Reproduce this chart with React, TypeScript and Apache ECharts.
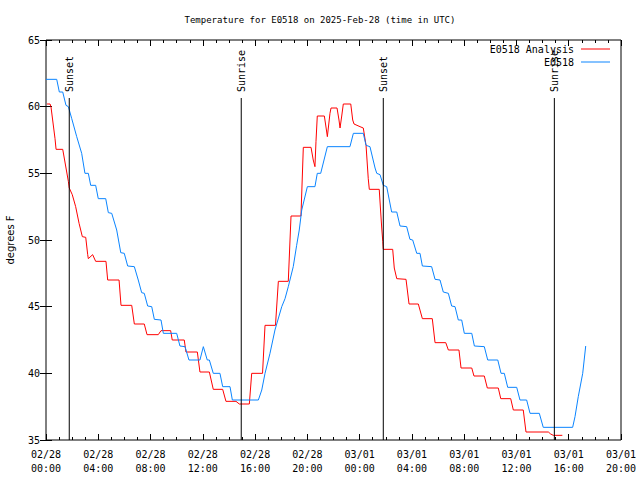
import React, { useEffect, useRef } from "react";
import * as echarts from "echarts";

// hours since 2025-02-28 00:00 UTC
const analysisHours = [0.08, 0.31, 0.38, 0.69, 0.77, 1.28, 1.71, 1.78, 2.01, 2.27, 2.53, 2.78, 3.04, 3.19, 3.24, 3.57, 3.80, 4.59, 4.72, 5.59, 5.74, 6.56, 6.76, 7.52, 7.73, 8.59, 8.80, 9.54, 9.66, 10.58, 10.71, 11.58, 11.78, 12.50, 12.80, 13.52, 13.77, 14.54, 14.79, 15.56, 15.74, 16.57, 16.76, 17.56, 17.78, 18.54, 18.75, 19.51, 19.69, 20.28, 20.45, 20.58, 20.66, 20.76, 21.30, 21.48, 21.53, 21.73, 21.81, 22.27, 22.42, 22.50, 22.63, 22.75, 23.32, 23.47, 23.57, 24.03, 24.28, 24.49, 24.66, 24.74, 25.50, 25.61, 25.69, 25.77, 25.81, 26.53, 26.65, 26.84, 27.55, 27.78, 28.49, 28.80, 29.56, 29.77, 30.59, 30.79, 31.60, 31.76, 32.58, 32.75, 33.54, 33.77, 34.61, 34.80, 35.56, 35.76, 36.52, 36.73, 38.44, 38.62, 38.82, 39.51];
const analysisTemps = [60.2, 60.2, 60.0, 57.6, 56.8, 56.8, 54.4, 53.9, 53.4, 52.5, 51.25, 50.25, 50.2, 48.9, 48.6, 48.9, 48.4, 48.4, 47.0, 47.0, 45.1, 45.1, 43.7, 43.7, 42.9, 42.9, 43.2, 43.2, 42.5, 42.5, 41.6, 41.6, 40.1, 40.1, 38.8, 38.8, 37.9, 37.9, 37.7, 37.7, 40.0, 40.0, 43.6, 43.6, 46.9, 46.9, 51.8, 51.8, 56.95, 56.95, 56.0, 55.5, 57.4, 59.3, 59.3, 58.1, 57.75, 59.5, 59.9, 59.9, 59.0, 58.4, 59.3, 60.2, 60.2, 59.0, 58.7, 58.5, 58.4, 57.1, 54.6, 53.8, 53.8, 52.1, 50.9, 49.9, 49.3, 49.3, 47.9, 47.1, 47.05, 45.2, 45.2, 44.1, 44.1, 42.3, 42.3, 41.75, 41.75, 40.4, 40.4, 39.8, 39.8, 38.9, 38.9, 38.1, 38.1, 37.25, 37.25, 35.6, 35.6, 35.45, 35.35, 35.35];

const stationHours = [0.0, 0.82, 1.02, 1.28, 1.53, 1.71, 1.97, 2.35, 2.73, 2.98, 3.24, 3.42, 3.80, 4.00, 4.57, 4.77, 5.03, 5.41, 5.72, 5.99, 6.25, 6.76, 7.06, 7.32, 7.52, 7.78, 8.09, 8.29, 8.80, 8.98, 10.00, 10.25, 10.64, 10.94, 11.78, 12.04, 12.34, 12.50, 12.80, 13.31, 13.52, 14.08, 14.26, 16.25, 16.51, 16.76, 17.14, 17.52, 18.04, 18.29, 18.54, 18.92, 19.18, 19.38, 19.57, 20.00, 20.58, 20.76, 21.02, 21.53, 23.26, 23.52, 24.28, 24.49, 24.79, 25.18, 25.31, 25.56, 25.81, 26.07, 26.45, 26.84, 27.09, 27.60, 27.85, 28.06, 28.37, 28.62, 28.80, 29.51, 29.77, 30.15, 30.40, 30.79, 31.04, 31.30, 31.55, 31.81, 32.01, 32.58, 32.78, 33.54, 33.80, 34.57, 34.82, 35.07, 35.33, 36.02, 36.27, 36.78, 37.04, 37.75, 38.05, 40.30, 40.48, 40.73, 41.07, 41.30];
const stationTemps = [62.05, 62.05, 61.1, 61.1, 60.1, 60.0, 59.1, 57.75, 56.5, 55.0, 55.0, 54.1, 54.1, 53.1, 53.1, 52.05, 52.0, 50.75, 49.05, 49.0, 48.05, 48.0, 47.0, 46.05, 46.0, 45.05, 45.0, 44.05, 44.0, 43.0, 43.0, 42.05, 42.0, 41.0, 41.0, 42.0, 41.0, 41.0, 40.0, 40.0, 39.0, 39.0, 38.0, 38.0, 38.75, 40.0, 41.5, 43.25, 45.0, 45.6, 46.5, 48.0, 49.6, 50.75, 52.25, 54.0, 54.0, 55.0, 55.0, 57.0, 57.0, 58.0, 58.0, 57.1, 57.0, 55.4, 55.0, 54.9, 54.1, 54.0, 52.1, 52.1, 51.05, 51.0, 50.05, 50.0, 49.0, 49.0, 48.05, 48.0, 47.05, 47.0, 46.1, 46.0, 45.05, 45.0, 44.0, 44.0, 43.0, 43.0, 42.05, 42.0, 41.0, 41.0, 40.0, 40.0, 38.95, 38.95, 38.0, 38.0, 37.0, 37.0, 35.95, 35.95, 36.75, 38.25, 40.0, 42.05];

const eventHours = [1.78, 14.94, 25.81, 38.9];
const eventLabels = ["Sunset", "Sunrise", "Sunset", "Sunrise"];
const eventLineTop = 60.65;

const seriesNames = ["E0518 Analysis", "E0518"];
const xTickHours = [0, 4, 8, 12, 16, 20, 24, 28, 32, 36, 40, 44];
const dayLabels = ["02/28", "03/01"];

const MONO = "'DejaVu Sans Mono', monospace";

function fmtHour(h: number): string {
  const day = dayLabels[Math.floor(h / 24)] ?? dayLabels[1];
  const hh = Math.round(h % 24);
  return `${day}\n${String(hh).padStart(2, "0")}:00`;
}

export default function App() {
  const ref = useRef<HTMLDivElement>(null);
  useEffect(() => {
    if (!ref.current) return;
    const chart = echarts.init(ref.current, undefined, { renderer: "svg" });
    const red = analysisHours.map((h, i) => [h, analysisTemps[i]]);
    const blue = stationHours.map((h, i) => [h, stationTemps[i]]);
    const axisLine = { show: false };
    const legendCommon = {
      right: 30,
      align: "right",
      icon: "rect",
      itemWidth: 29,
      itemHeight: 1,
      itemGap: 0,
      padding: 0,
      textStyle: { fontFamily: MONO, fontSize: 10, color: "#000", padding: [0, 2, 0, 0] },
    };
    chart.setOption({
      animation: false,
      backgroundColor: "#fff",
      title: {
        text: "Temperature for E0518 on 2025-Feb-28 (time in UTC)",
        left: "center",
        top: 10,
        textStyle: { fontFamily: MONO, fontSize: 9, fontWeight: "normal", color: "#000" },
      },
      legend: [
        { ...legendCommon, data: [seriesNames[0]], top: 44 },
        { ...legendCommon, data: [seriesNames[1]], top: 57 },
      ],
      grid: {
        left: 46,
        right: 19,
        top: 40,
        bottom: 40,
        containLabel: false,
        outerBoundsMode: "none",
        show: true,
        borderColor: "#000",
        borderWidth: 1,
        backgroundColor: "transparent",
      },
      xAxis: [
        {
          type: "value",
          min: xTickHours[0],
          max: xTickHours[xTickHours.length - 1],
          interval: 4,
          position: "bottom",
          axisLine,
          splitLine: { show: false },
          axisTick: { inside: true, length: 6, lineStyle: { color: "#000" } },
          minorTick: { show: true, splitNumber: 4, length: 3, lineStyle: { color: "#000" } },
          axisLabel: {
            formatter: (v: number) => fmtHour(v),
            fontFamily: MONO,
            fontSize: 10,
            color: "#000",
            lineHeight: 14,
            margin: 7,
            showMinLabel: true,
            showMaxLabel: true,
          },
        },
        {
          type: "value",
          min: xTickHours[0],
          max: xTickHours[xTickHours.length - 1],
          interval: 4,
          position: "top",
          axisLine,
          splitLine: { show: false },
          axisTick: { inside: true, length: 6, lineStyle: { color: "#000" } },
          minorTick: { show: true, splitNumber: 4, length: 3, lineStyle: { color: "#000" } },
          axisLabel: { show: false },
        },
      ],
      yAxis: [
        {
          type: "value",
          min: 35,
          max: 65,
          interval: 5,
          position: "left",
          name: "degrees F",
          nameLocation: "middle",
          nameGap: 31,
          nameTextStyle: { fontFamily: "'DejaVu Sans', sans-serif", fontSize: 10, color: "#000" },
          axisLine,
          splitLine: { show: false },
          axisTick: { inside: true, length: 6, lineStyle: { color: "#000" } },
          axisLabel: { fontFamily: MONO, fontSize: 10, color: "#000", margin: 6 },
        },
        {
          type: "value",
          min: 35,
          max: 65,
          interval: 5,
          position: "right",
          axisLine,
          splitLine: { show: false },
          axisTick: { inside: true, length: 6, lineStyle: { color: "#000" } },
          axisLabel: { show: false },
        },
      ],
      series: [
        {
          name: seriesNames[0],
          type: "line",
          data: red,
          showSymbol: false,
          symbol: "none",
          color: "#ff0000",
          lineStyle: { width: 1, color: "#ff0000" },
          z: 3,
        },
        {
          name: seriesNames[1],
          type: "line",
          data: blue,
          showSymbol: false,
          symbol: "none",
          color: "#0a84ff",
          lineStyle: { width: 1, color: "#0a84ff" },
          z: 4,
        },
        {
          type: "custom",
          data: eventHours.map((h) => [h, 35]),
          clip: false,
          z: 5,
          renderItem: (params: any, api: any) => {
            const h = api.value(0);
            const p0 = api.coord([h, 35]);
            const p1 = api.coord([h, eventLineTop]);
            return {
              type: "group",
              children: [
                {
                  type: "line",
                  shape: { x1: p0[0], y1: p0[1], x2: p1[0], y2: p1[1] },
                  style: { stroke: "#000", lineWidth: 1 },
                },
                {
                  type: "text",
                  x: p1[0],
                  y: p1[1] - 6,
                  rotation: Math.PI / 2,
                  style: {
                    text: eventLabels[params.dataIndex],
                    align: "left",
                    verticalAlign: "middle",
                    fontFamily: MONO,
                    fontSize: 10,
                    fill: "#000",
                  },
                },
              ],
            };
          },
        },
      ],
    });
    return () => chart.dispose();
  }, []);
  return (
    <div
      ref={ref}
      style={{ position: "absolute", left: 0, top: 0, width: 640, height: 480 }}
    />
  );
}
